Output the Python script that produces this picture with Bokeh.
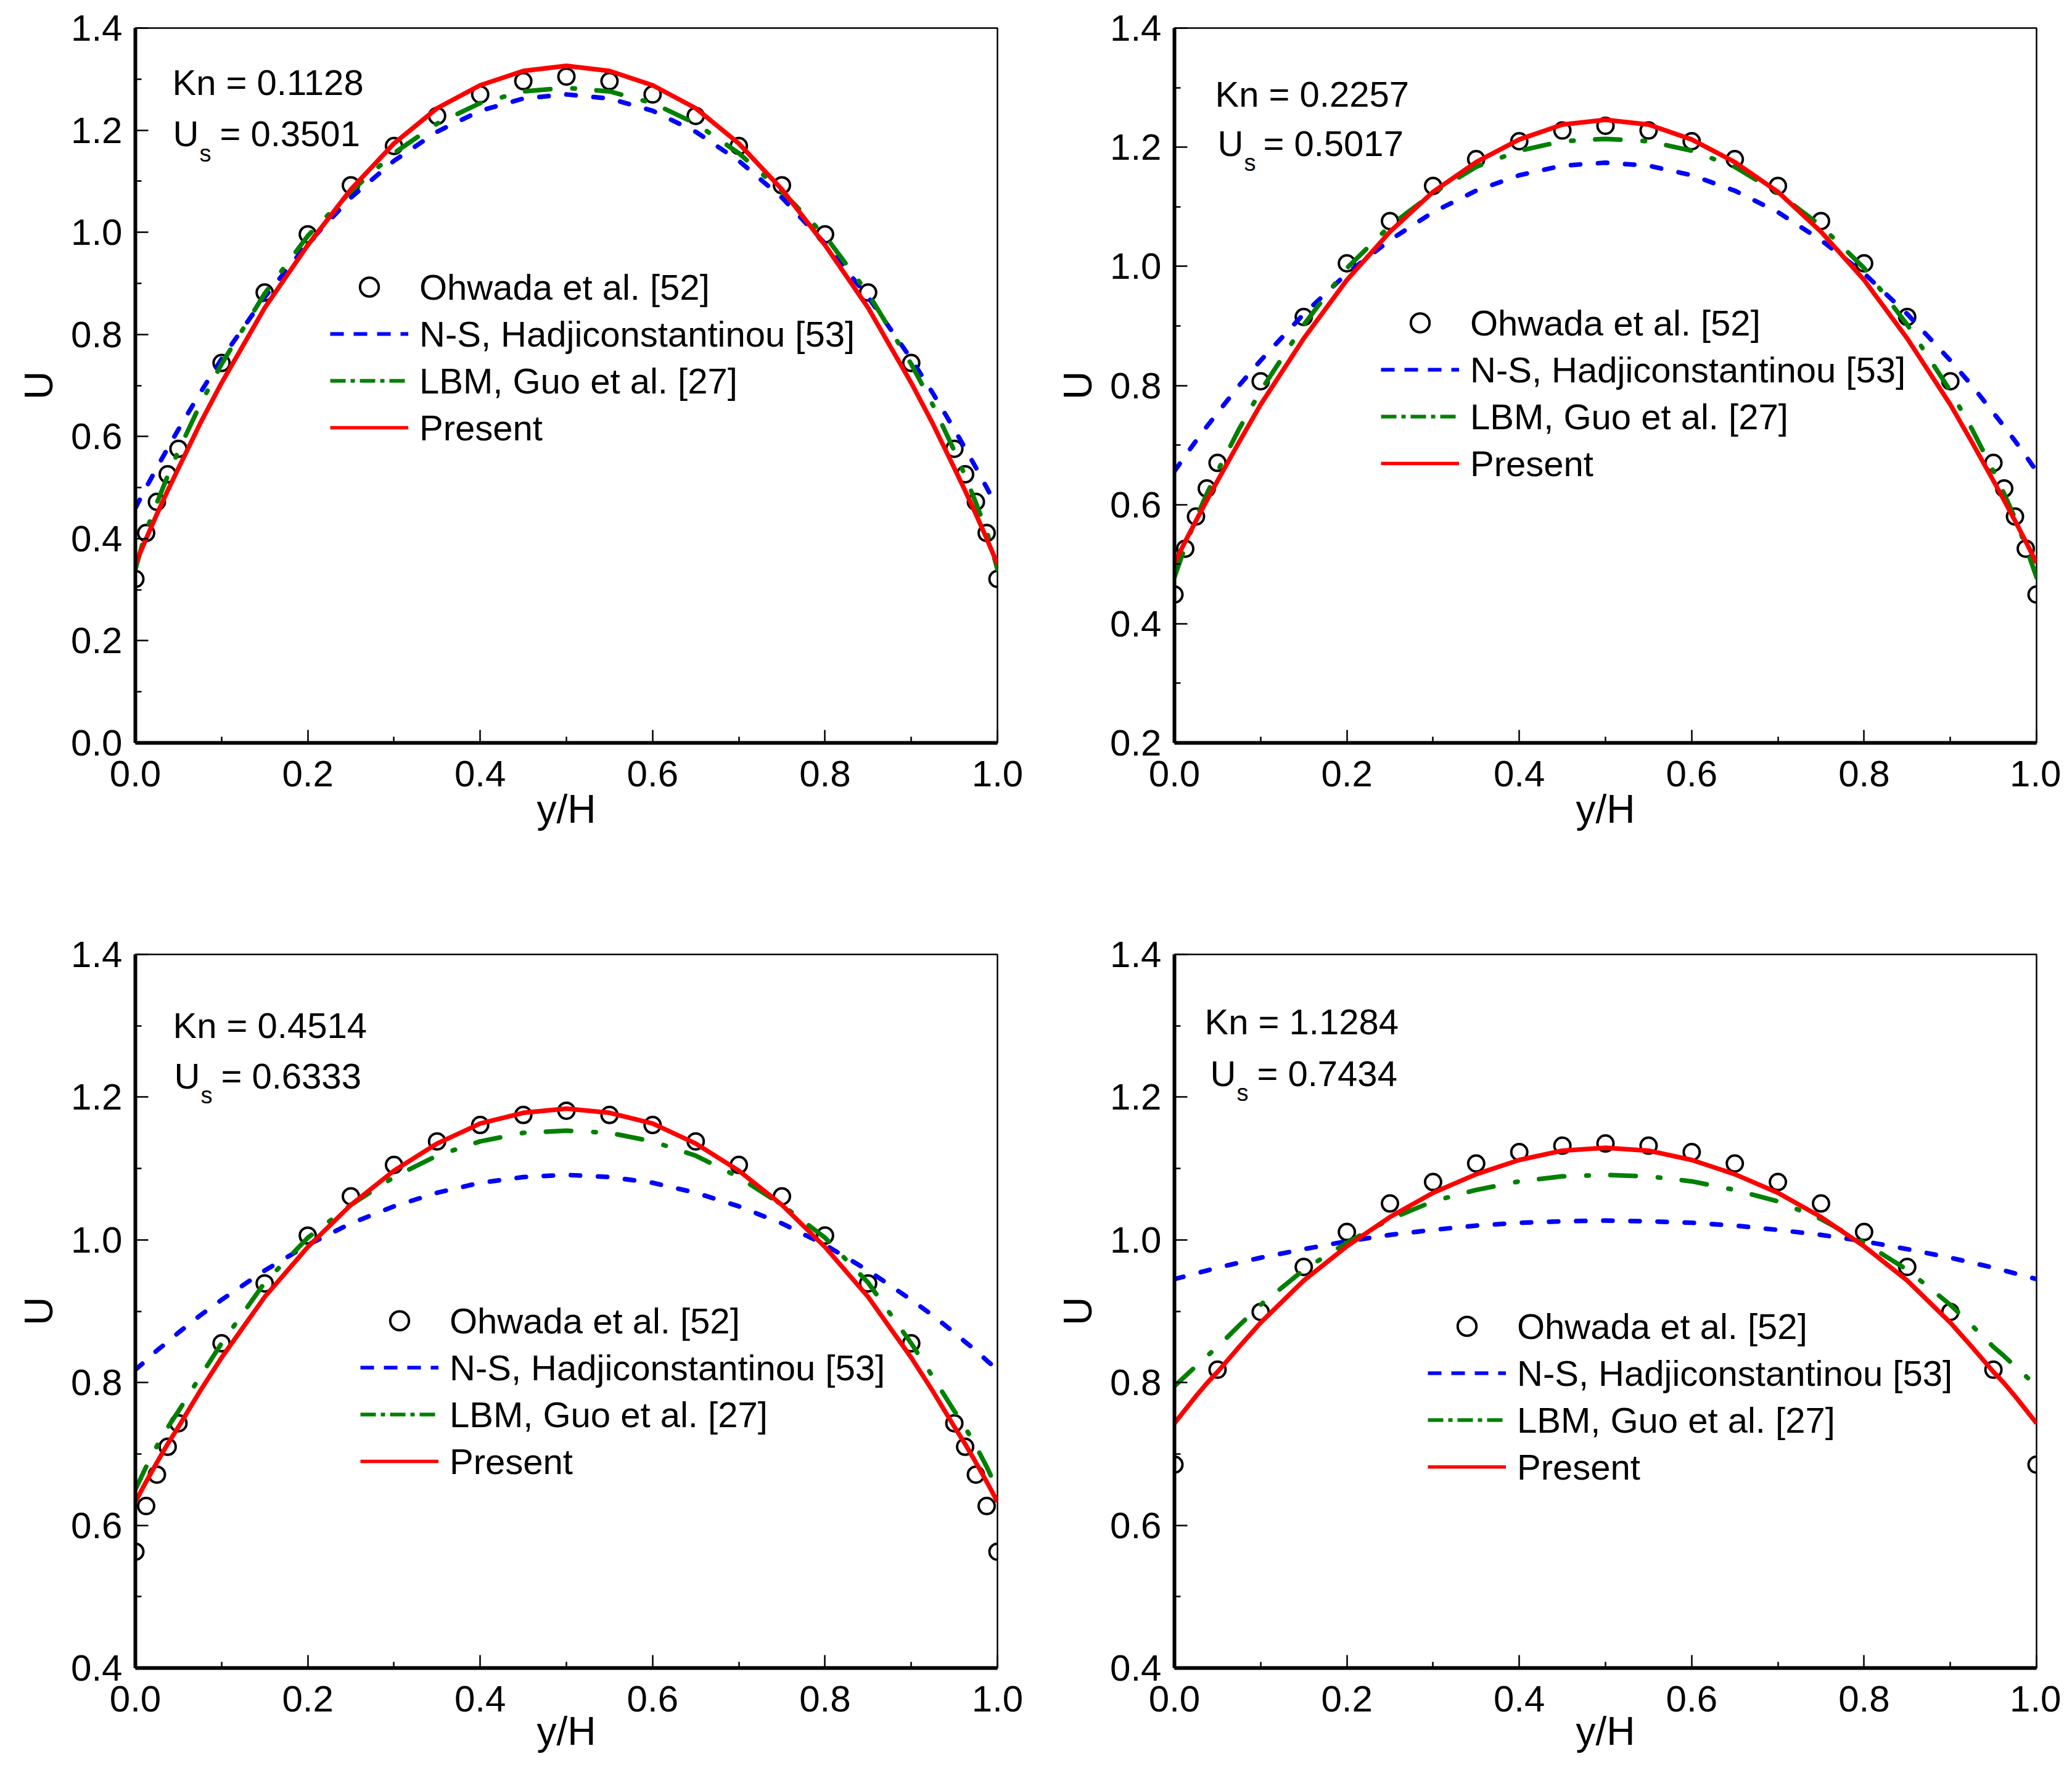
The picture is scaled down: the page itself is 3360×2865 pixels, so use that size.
from bokeh.plotting import figure
from bokeh.models import (Range1d, FixedTicker, PrintfTickFormatter, Label,
                          Legend, LegendItem)
from bokeh.layouts import column, row
from bokeh.embed import file_html
from bokeh.resources import INLINE

FONT = "Liberation Sans"
NAN = float("nan")

# ---------------- data ----------------
# y/H positions of the model curves
Y_LINE = [0.0, 0.0125, 0.025, 0.0375, 0.05, 0.075, 0.1, 0.15, 0.2, 0.25, 0.3,
          0.35, 0.4, 0.45, 0.5, 0.55, 0.6, 0.65, 0.7, 0.75, 0.8, 0.85, 0.9,
          0.925, 0.95, 0.9625, 0.975, 0.9875, 1.0]
# y/H positions of Ohwada et al. data (Kn = 0.1128, 0.2257, 0.4514)
Y_OHW = [0.0, 0.0125, 0.025, 0.0375, 0.05, 0.1, 0.15, 0.2, 0.25, 0.3, 0.35,
         0.4, 0.45, 0.5, 0.55, 0.6, 0.65, 0.7, 0.75, 0.8, 0.85, 0.9, 0.95,
         0.9625, 0.975, 0.9875, 1.0]
# y/H positions of Ohwada et al. data (Kn = 1.1284)
Y_OHW4 = [0.0, 0.05, 0.1, 0.15, 0.2, 0.25, 0.3, 0.35, 0.4, 0.45, 0.5, 0.55,
          0.6, 0.65, 0.7, 0.75, 0.8, 0.85, 0.9, 0.95, 1.0]

# Kn = 0.1128
OHW_1 = [0.321, 0.411, 0.472, 0.526, 0.576, 0.744, 0.882, 0.996, 1.092, 1.169,
         1.228, 1.270, 1.296, 1.305, 1.296, 1.270, 1.228, 1.169, 1.092, 0.996,
         0.882, 0.744, 0.576, 0.526, 0.472, 0.411, 0.321]
NS_1 = [0.460, 0.500, 0.539, 0.577, 0.614, 0.685, 0.752, 0.873, 0.978, 1.068,
        1.140, 1.197, 1.238, 1.262, 1.270, 1.262, 1.238, 1.197, 1.140, 1.068,
        0.978, 0.873, 0.752, 0.685, 0.614, 0.577, 0.539, 0.500, 0.460]
LBM_1 = [0.340, 0.415, 0.470, 0.523, 0.572, 0.662, 0.742, 0.880, 0.993, 1.080,
         1.155, 1.213, 1.253, 1.276, 1.283, 1.276, 1.253, 1.213, 1.155, 1.080,
         0.993, 0.880, 0.742, 0.662, 0.572, 0.523, 0.470, 0.415, 0.340]
PRES_1 = [0.350, 0.400, 0.448, 0.494, 0.538, 0.625, 0.705, 0.852, 0.975, 1.084,
          1.174, 1.243, 1.288, 1.316, 1.326, 1.316, 1.288, 1.243, 1.174, 1.084,
          0.975, 0.852, 0.705, 0.625, 0.538, 0.494, 0.448, 0.400, 0.350]

# Kn = 0.2257
OHW_2 = [0.449, 0.526, 0.580, 0.627, 0.670, 0.807, 0.915, 1.005, 1.076, 1.135,
         1.180, 1.210, 1.228, 1.236, 1.228, 1.210, 1.180, 1.135, 1.076, 1.005,
         0.915, 0.807, 0.670, 0.627, 0.580, 0.526, 0.449]
NS_2 = [0.656, 0.682, 0.707, 0.731, 0.754, 0.800, 0.842, 0.920, 0.988, 1.044,
        1.091, 1.127, 1.153, 1.169, 1.174, 1.169, 1.153, 1.127, 1.091, 1.044,
        0.988, 0.920, 0.842, 0.800, 0.754, 0.731, 0.707, 0.682, 0.656]
LBM_2 = [0.478, 0.530, 0.577, 0.618, 0.656, 0.727, 0.791, 0.902, 0.997, 1.068,
         1.123, 1.167, 1.194, 1.210, 1.214, 1.210, 1.194, 1.167, 1.123, 1.068,
         0.997, 0.902, 0.791, 0.727, 0.656, 0.618, 0.577, 0.530, 0.478]
PRES_2 = [0.502, 0.538, 0.573, 0.607, 0.640, 0.705, 0.768, 0.879, 0.977, 1.058,
          1.125, 1.175, 1.213, 1.238, 1.246, 1.238, 1.213, 1.175, 1.125, 1.058,
          0.977, 0.879, 0.768, 0.705, 0.640, 0.607, 0.573, 0.538, 0.502]

# Kn = 0.4514
OHW_3 = [0.563, 0.627, 0.671, 0.710, 0.743, 0.855, 0.939, 1.006, 1.061, 1.105,
         1.138, 1.161, 1.175, 1.181, 1.175, 1.161, 1.138, 1.105, 1.061, 1.006,
         0.939, 0.855, 0.743, 0.710, 0.671, 0.627, 0.563]
NS_3 = [0.818, 0.831, 0.845, 0.857, 0.870, 0.894, 0.916, 0.957, 0.993, 1.023,
        1.047, 1.066, 1.080, 1.088, 1.091, 1.088, 1.080, 1.066, 1.047, 1.023,
        0.993, 0.957, 0.916, 0.894, 0.870, 0.857, 0.845, 0.831, 0.818]
LBM_3 = [0.650, 0.682, 0.711, 0.737, 0.760, 0.808, 0.855, 0.940, 1.003, 1.049,
         1.088, 1.118, 1.138, 1.150, 1.153, 1.150, 1.138, 1.118, 1.088, 1.049,
         1.003, 0.940, 0.855, 0.808, 0.760, 0.737, 0.711, 0.682, 0.650]
PRES_3 = [0.633, 0.661, 0.688, 0.714, 0.738, 0.788, 0.835, 0.920, 0.990, 1.049,
          1.097, 1.135, 1.163, 1.178, 1.184, 1.178, 1.163, 1.135, 1.097, 1.049,
          0.990, 0.920, 0.835, 0.788, 0.738, 0.714, 0.688, 0.661, 0.633]

# Kn = 1.1284
OHW_4 = [0.685, 0.818, 0.899, 0.962, 1.011, 1.051, 1.081, 1.107, 1.123, 1.132,
         1.135, 1.132, 1.123, 1.107, 1.081, 1.051, 1.011, 0.962, 0.899, 0.818,
         0.685]
NS_4 = [0.945, 0.949, 0.953, 0.957, 0.961, 0.968, 0.975, 0.987, 0.998, 1.007,
        1.014, 1.020, 1.024, 1.026, 1.027, 1.026, 1.024, 1.020, 1.014, 1.007,
        0.998, 0.987, 0.975, 0.968, 0.961, 0.957, 0.953, 0.949, 0.945]
LBM_4 = [0.795, 0.809, 0.823, 0.837, 0.850, 0.880, 0.909, 0.958, 0.996, 1.029,
         1.054, 1.070, 1.082, 1.089, 1.091, 1.089, 1.082, 1.070, 1.054, 1.029,
         0.996, 0.958, 0.909, 0.880, 0.850, 0.837, 0.823, 0.809, 0.795]
PRES_4 = [0.743, 0.762, 0.781, 0.799, 0.815, 0.850, 0.884, 0.943, 0.991, 1.032,
          1.066, 1.092, 1.112, 1.125, 1.129, 1.125, 1.112, 1.092, 1.066, 1.032,
          0.991, 0.943, 0.884, 0.850, 0.815, 0.799, 0.781, 0.762, 0.743]

KN_TEXT = ["Kn = 0.1128", "Kn = 0.2257", "Kn = 0.4514", "Kn = 1.1284"]
US_TEXT = ["= 0.3501", "= 0.5017", "= 0.6333", "= 0.7434"]
LEGEND_LABELS = ["Ohwada et al. [52]", "N-S, Hadjiconstantinou [53]",
                 "LBM, Guo et al. [27]", "Present"]
X_TICKS = [0.0, 0.2, 0.4, 0.6, 0.8, 1.0]
X_MINOR = [0.1, 0.3, 0.5, 0.7, 0.9]
Y_TICKS_1 = [0.0, 0.2, 0.4, 0.6, 0.8, 1.0, 1.2, 1.4]
Y_TICKS_2 = [0.2, 0.4, 0.6, 0.8, 1.0, 1.2, 1.4]
Y_TICKS_3 = [0.4, 0.6, 0.8, 1.0, 1.2, 1.4]
Y_MINOR_1 = [0.1, 0.3, 0.5, 0.7, 0.9, 1.1, 1.3]
Y_MINOR_2 = [0.3, 0.5, 0.7, 0.9, 1.1, 1.3]
Y_MINOR_3 = [0.5, 0.7, 0.9, 1.1, 1.3]

# ---------------- layout / style ----------------
FW = 1398
TICK_FS = "60px"
TEXT_FS = "58px"
TITLE_FS = "64px"
BLUE = "#0000FF"
GREEN = "#008000"
RED = "#FF0000"


def make_panel(cfg):
    fh = cfg["fh"]
    y0, y1 = cfg["yr"]
    p = figure(frame_width=FW, frame_height=fh,
               x_range=Range1d(0, 1), y_range=Range1d(y0, y1),
               output_backend="svg", toolbar_location=None,
               min_border_left=cfg["bl"], min_border_right=cfg["br"],
               min_border_top=cfg["bt"], min_border_bottom=cfg["bb"],
               background_fill_color="white", border_fill_color="white",
               outline_line_color="black", outline_line_width=2.5)
    p.grid.visible = False

    p.xaxis.ticker = FixedTicker(ticks=X_TICKS, minor_ticks=X_MINOR)
    p.yaxis.ticker = FixedTicker(ticks=cfg["yt"], minor_ticks=cfg["ym"])
    for ax in (p.xaxis[0], p.yaxis[0]):
        ax.formatter = PrintfTickFormatter(format="%.1f")
        ax.axis_line_width = 6
        ax.axis_line_color = "black"
        ax.major_tick_in = 21
        ax.major_tick_out = 0
        ax.minor_tick_in = 10
        ax.minor_tick_out = 0
        ax.major_tick_line_width = 2.5
        ax.minor_tick_line_width = 2.5
        ax.major_label_text_font = FONT
        ax.major_label_text_font_size = TICK_FS
        ax.major_label_text_color = "black"
        ax.axis_label_text_font = FONT
        ax.axis_label_text_font_size = TITLE_FS
        ax.axis_label_text_font_style = "normal"
        ax.axis_label_text_color = "black"
    p.xaxis.axis_label = "y/H"
    p.yaxis.axis_label = "U"
    p.xaxis.major_label_standoff = 29
    p.xaxis.axis_label_standoff = cfg["xls"]
    p.yaxis.major_label_standoff = 21
    p.yaxis.axis_label_standoff = 13

    # data marks
    r_o = p.scatter(cfg["yo"], cfg["ohw"], marker="circle", size=26,
                    fill_color=None, line_color="black", line_width=4)
    p.line(Y_LINE, cfg["ns"], line_color=BLUE, line_width=7.5,
           line_dash="15 29", line_cap="round")
    p.line(Y_LINE, cfg["lbm"], line_color=GREEN, line_width=7.5,
           line_dash="41 36 4 35", line_cap="round")
    p.line(Y_LINE, cfg["pres"], line_color=RED, line_width=7.5,
           line_join="round")

    # legend keys (thinner, shorter dash pattern, as in the original key)
    k_n = p.line([NAN], [NAN], line_color=BLUE, line_width=6,
                 line_dash="22 16")
    k_l = p.line([NAN], [NAN], line_color=GREEN, line_width=6,
                 line_dash="25 8 7 8")
    k_p = p.line([NAN], [NAN], line_color=RED, line_width=5.5)

    items = [LegendItem(label=LEGEND_LABELS[0], renderers=[r_o]),
             LegendItem(label=LEGEND_LABELS[1], renderers=[k_n]),
             LegendItem(label=LEGEND_LABELS[2], renderers=[k_l]),
             LegendItem(label=LEGEND_LABELS[3], renderers=[k_p])]
    leg = Legend(items=items, location=cfg["leg"], orientation="vertical",
                 glyph_width=127, glyph_height=76, label_height=76,
                 label_width=10, spacing=0, padding=0, margin=0,
                 label_standoff=18, border_line_alpha=0,
                 background_fill_alpha=0, label_text_font=FONT,
                 label_text_font_size=TEXT_FS, label_text_color="black")
    p.add_layout(leg)

    def pos(ox, oy):
        return ox / FW, y1 - oy / fh * (y1 - y0)

    (kx, ky), (ux, uy), (sx, sy), (ex, ey) = cfg["txt"]
    x, y = pos(kx, ky)
    p.add_layout(Label(x=x, y=y, text=cfg["kn"], text_font=FONT,
                       text_font_size=TEXT_FS, text_baseline="middle",
                       text_color="black"))
    x, y = pos(ux, uy)
    p.add_layout(Label(x=x, y=y, text="U", text_font=FONT,
                       text_font_size=TEXT_FS, text_baseline="middle",
                       text_color="black"))
    x, y = pos(sx, sy)
    p.add_layout(Label(x=x, y=y, text="s", text_font=FONT,
                       text_font_size="38px", text_baseline="middle",
                       text_color="black"))
    x, y = pos(ex, ey)
    p.add_layout(Label(x=x, y=y, text=cfg["us"], text_font=FONT,
                       text_font_size=TEXT_FS, text_baseline="middle",
                       text_color="black"))
    return p


cfgs = [
    dict(fh=1159, yr=(0.0, 1.4), yt=Y_TICKS_1, ym=Y_MINOR_1, bl=219, br=60,
         bt=45, bb=160, xls=-2, yo=Y_OHW, ohw=OHW_1, ns=NS_1, lbm=LBM_1,
         pres=PRES_1, kn=KN_TEXT[0], us=US_TEXT[0], leg=(316, 473),
         txt=[(60, 88), (61, 171), (104, 203), (137, 171)]),
    dict(fh=1159, yr=(0.2, 1.4), yt=Y_TICKS_2, ym=Y_MINOR_2, bl=227, br=40,
         bt=45, bb=160, xls=-2, yo=Y_OHW, ohw=OHW_2, ns=NS_2, lbm=LBM_2,
         pres=PRES_2, kn=KN_TEXT[1], us=US_TEXT[1], leg=(335, 415),
         txt=[(66, 107), (70, 187), (113, 218), (144, 187)]),
    dict(fh=1157, yr=(0.4, 1.4), yt=Y_TICKS_3, ym=Y_MINOR_3, bl=219, br=60,
         bt=183, bb=150, xls=-7, yo=Y_OHW, ohw=OHW_3, ns=NS_3, lbm=LBM_3,
         pres=PRES_3, kn=KN_TEXT[2], us=US_TEXT[2], leg=(365, 297),
         txt=[(61, 115), (63, 197), (106, 228), (139, 197)]),
    dict(fh=1157, yr=(0.4, 1.4), yt=Y_TICKS_3, ym=Y_MINOR_3, bl=227, br=40,
         bt=183, bb=150, xls=-7, yo=Y_OHW4, ohw=OHW_4, ns=NS_4, lbm=LBM_4,
         pres=PRES_4, kn=KN_TEXT[3], us=US_TEXT[3], leg=(411, 288),
         txt=[(49, 109), (58, 193), (101, 224), (134, 193)]),
]

panels = [make_panel(c) for c in cfgs]
layout = column(row(panels[0], panels[1], spacing=0),
                row(panels[2], panels[3], spacing=0), spacing=0)

open("out.html", "w").write(file_html(layout, INLINE))
